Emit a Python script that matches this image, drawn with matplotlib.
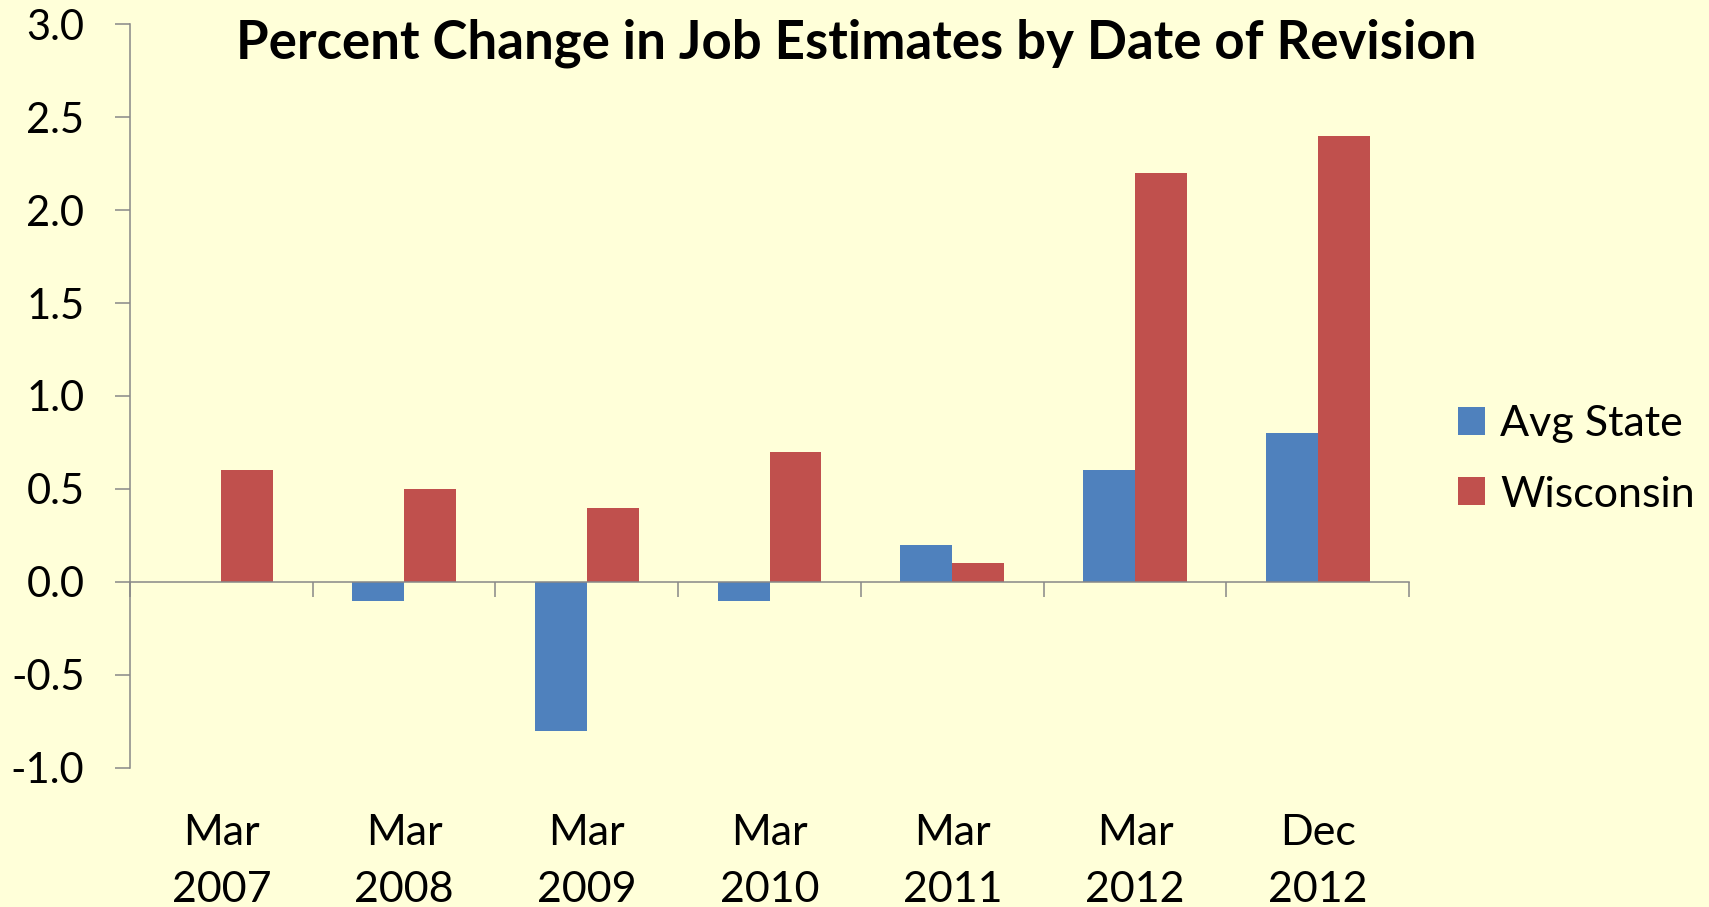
import numpy as np
import matplotlib.pyplot as plt
from matplotlib.ticker import FixedLocator

plt.rcParams['font.family'] = ['Lato', 'DejaVu Sans']

# Data
months = ['Mar', 'Mar', 'Mar', 'Mar', 'Mar', 'Mar', 'Dec']
years = ['2007', '2008', '2009', '2010', '2011', '2012', '2012']
avg_state = [0.0, -0.1, -0.8, -0.1, 0.2, 0.6, 0.8]
wisconsin = [0.6, 0.5, 0.4, 0.7, 0.1, 2.2, 2.4]
y_ticks = [-1.0, -0.5, 0.0, 0.5, 1.0, 1.5, 2.0, 2.5, 3.0]

bg = '#FFFFD9'
blue = '#4F81BD'
red = '#C0504D'
axis_gray = '#888888'

fig = plt.figure(figsize=(17.09, 9.07), dpi=100, facecolor=bg)
ax = fig.add_axes([0.0761, 0.1533, 0.7484, 0.8202], facecolor=bg)

n = len(months)
centers = np.arange(n) + 0.5
w = 0.284

ax.bar(centers - w, avg_state, width=w, align='edge', color=blue, label='Avg State')
ax.bar(centers, wisconsin, width=w, align='edge', color=red, label='Wisconsin')

ax.set_xlim(0, n)
ax.set_ylim(-1.0, 3.0)

# axes lines
for s in ['top', 'right']:
    ax.spines[s].set_visible(False)
ax.spines['bottom'].set_position(('data', 0))
for s in ['left', 'bottom']:
    ax.spines[s].set_color(axis_gray)
    ax.spines[s].set_linewidth(1.1)

ax.xaxis.set_major_locator(FixedLocator(np.arange(n + 1)))
ax.set_xticklabels([])
ax.set_yticks(y_ticks)
ax.set_yticklabels(['%.1f' % v for v in y_ticks])
ax.tick_params(axis='both', direction='out', length=10.8, width=1.1, color=axis_gray)
ax.tick_params(axis='y', labelsize=30, pad=22)

# category labels sit below the plot area
trans = ax.get_xaxis_transform()
for c, m, yr in zip(centers, months, years):
    ax.text(c, -0.1035, m, transform=trans, ha='center', va='baseline', fontsize=31)
    ax.text(c, -0.180, yr, transform=trans, ha='center', va='baseline', fontsize=31)

fig.text(0.501, 0.935, 'Percent Change in Job Estimates by Date of Revision',
         ha='center', va='baseline', fontsize=38, fontweight='bold')

ax.legend(loc='center left', bbox_to_anchor=(0.843, 0.4935), bbox_transform=fig.transFigure,
          frameon=False, fontsize=31, handlelength=0.63, handleheight=0.63,
          handletextpad=0.35, labelspacing=0.75, borderaxespad=0)

fig.savefig('out.png', dpi=100, facecolor=bg)
